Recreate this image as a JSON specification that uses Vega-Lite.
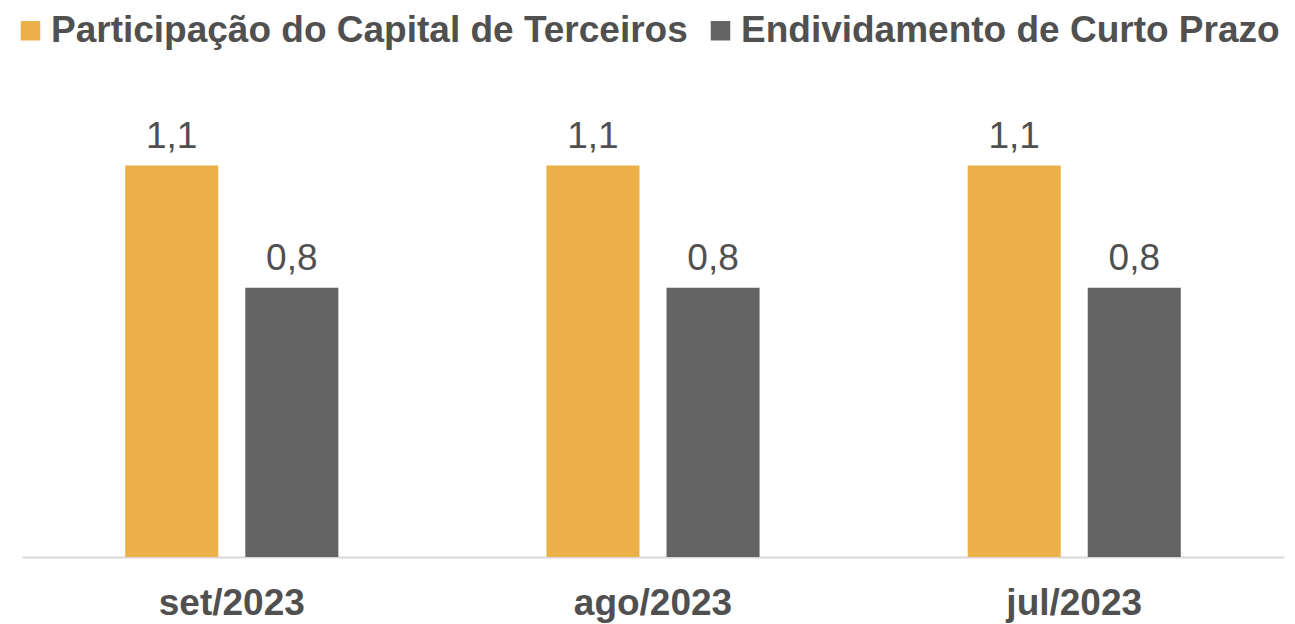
{
  "$schema": "https://vega.github.io/schema/vega-lite/v6.json",
  "width": 1262,
  "height": 427,
  "autosize": {"type": "none"},
  "padding": {"left": 22, "top": 130, "right": 11, "bottom": 67},
  "background": "white",
  "config": {
    "locale": {"number": {"decimal": ",", "thousands": ".", "grouping": [3], "currency": ["R$", ""]}},
    "view": {"stroke": null},
    "font": "Liberation Sans"
  },
  "data": {
    "values": [
      {"mes": "set/2023", "serie": "Participação do Capital de Terceiros", "valor": 1.1},
      {"mes": "set/2023", "serie": "Endividamento de Curto Prazo", "valor": 0.757},
      {"mes": "ago/2023", "serie": "Participação do Capital de Terceiros", "valor": 1.1},
      {"mes": "ago/2023", "serie": "Endividamento de Curto Prazo", "valor": 0.757},
      {"mes": "jul/2023", "serie": "Participação do Capital de Terceiros", "valor": 1.1},
      {"mes": "jul/2023", "serie": "Endividamento de Curto Prazo", "valor": 0.757}
    ]
  },
  "encoding": {
    "x": {
      "field": "mes", "type": "nominal", "sort": null,
      "scale": {"paddingInner": 0.494, "paddingOuter": 0.245},
      "axis": {"title": null, "labelAngle": 0, "labelFont": "Liberation Sans", "labelFontSize": 37, "labelFontWeight": "bold", "labelColor": "#505050", "ticks": false, "domainColor": "#d9d9d9", "domainWidth": 2, "labelPadding": 28}
    },
    "xOffset": {
      "field": "serie", "type": "nominal",
      "sort": ["Participação do Capital de Terceiros", "Endividamento de Curto Prazo"],
      "scale": {"paddingInner": 0.225, "paddingOuter": 0}
    },
    "y": {
      "field": "valor", "type": "quantitative",
      "scale": {"domain": [0, 1.2], "nice": false},
      "axis": null
    }
  },
  "layer": [
    {
      "mark": {"type": "bar"},
      "encoding": {
        "color": {
          "field": "serie", "type": "nominal",
          "sort": ["Participação do Capital de Terceiros", "Endividamento de Curto Prazo"],
          "scale": {"domain": ["Participação do Capital de Terceiros", "Endividamento de Curto Prazo"], "range": ["#EBB047", "#646464"]},
          "legend": {
            "title": null, "orient": "none", "legendX": -10, "legendY": -118, "direction": "horizontal", "padding": 0,
            "symbolType": "square", "symbolSize": 380, "symbolStrokeWidth": 0, "symbolOpacity": 1,
            "labelFont": "Liberation Sans", "labelFontSize": 37, "labelFontWeight": "bold", "labelColor": "#505050",
            "labelOffset": 2, "columnPadding": 14, "labelLimit": 800
          }
        }
      }
    },
    {
      "mark": {"type": "text", "baseline": "alphabetic", "dy": -18, "font": "Liberation Sans", "fontSize": 37, "color": "#505050"},
      "encoding": {
        "text": {"field": "valor", "type": "quantitative", "format": ".1f"}
      }
    }
  ]
}
